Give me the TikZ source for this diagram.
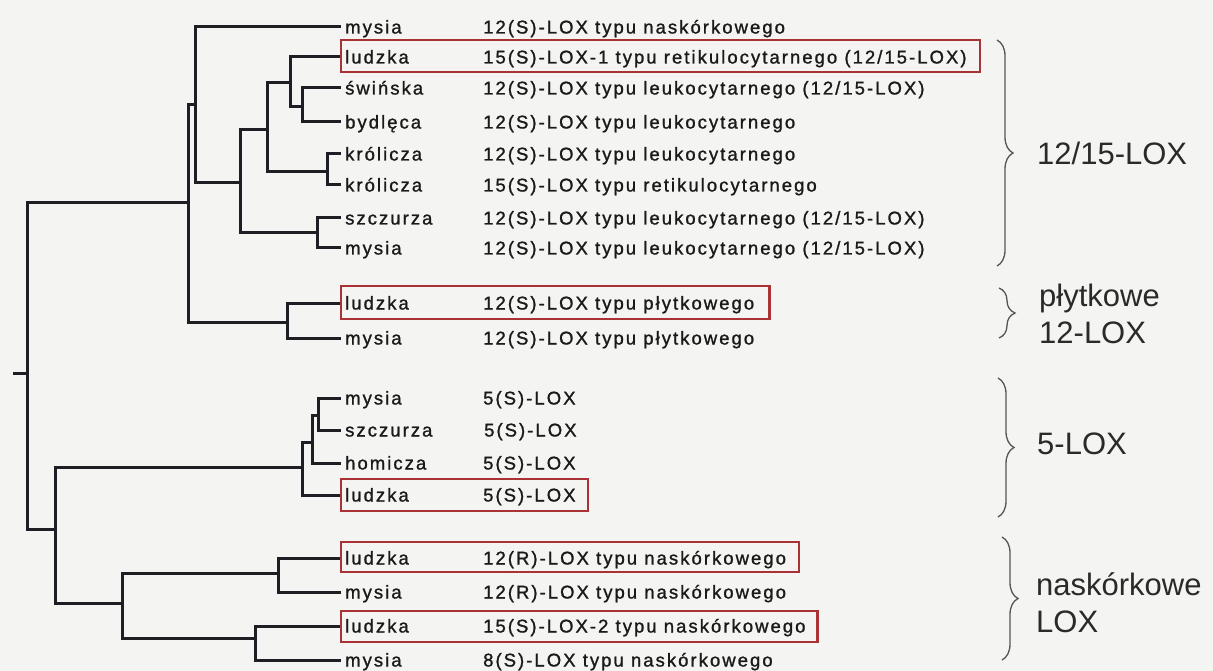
\documentclass[tikz,border=0pt]{standalone}
\usepackage{fontspec}
\setmainfont{Liberation Sans}
\newfontfamily\labfont[LetterSpace=11,FakeBold=1.2]{Liberation Sans}
\usetikzlibrary{decorations.pathreplacing,calc}
\definecolor{bg}{HTML}{F4F4F2}
\definecolor{tree}{HTML}{1E1E24}
\definecolor{boxred}{HTML}{A83236}
\definecolor{brc}{HTML}{555555}
\definecolor{txt}{HTML}{1A1A1A}
\definecolor{grp}{HTML}{2A2A2A}
\begin{document}
\begin{tikzpicture}[x=1pt,y=-1pt,
  branch/.style={draw=tree, line width=3pt},
  lab/.style={anchor=west, inner ysep=0pt, font=\labfont\fontsize{18.5}{20}\selectfont, text=txt, text height=15pt, text depth=2pt},
  leafname/.style={lab, inner xsep=4pt},
  desc/.style={lab, inner xsep=0pt},
  redbox/.style={draw=boxred, line width=2.5pt},
  grpbrace/.style={draw=brc, line width=1.3pt, decorate, decoration={brace, amplitude=16pt}},
  grplabel/.style={anchor=west, inner sep=0pt, align=left, font=\fontsize{31}{37}\selectfont, text=grp}]
\useasboundingbox (0,0) rectangle (1213,671);
\fill[bg] (0,0) rectangle (1213,671);

% leaf names
\node[leafname] (l1)  at (341,27)  {mysia};
\node[leafname] (l2)  at (341,57)  {ludzka};
\node[leafname] (l3)  at (341,88)  {świńska};
\node[leafname] (l4)  at (341,122) {bydlęca};
\node[leafname] (l5)  at (341,154) {królicza};
\node[leafname] (l6)  at (341,185) {królicza};
\node[leafname] (l7)  at (341,218) {szczurza};
\node[leafname] (l8)  at (341,248) {mysia};
\node[leafname] (l9)  at (341,303) {ludzka};
\node[leafname] (l10) at (341,338) {mysia};
\node[leafname] (l11) at (341,398) {mysia};
\node[leafname] (l12) at (341,430) {szczurza};
\node[leafname] (l13) at (341,463) {homicza};
\node[leafname] (l14) at (341,495) {ludzka};
\node[leafname] (l15) at (341,558) {ludzka};
\node[leafname] (l16) at (341,592) {mysia};
\node[leafname] (l17) at (341,626) {ludzka};
\node[leafname] (l18) at (341,660) {mysia};

% descriptions
\node[desc] (d1)  at (483,27)  {12(S)-LOX typu naskórkowego};
\node[desc] (d2)  at (483,57)  {15(S)-LOX-1 typu retikulocytarnego (12/15-LOX)};
\node[desc] (d3)  at (483,88)  {12(S)-LOX typu leukocytarnego (12/15-LOX)};
\node[desc] (d4)  at (483,122) {12(S)-LOX typu leukocytarnego};
\node[desc] (d5)  at (483,154) {12(S)-LOX typu leukocytarnego};
\node[desc] (d6)  at (483,185) {15(S)-LOX typu retikulocytarnego};
\node[desc] (d7)  at (483,218) {12(S)-LOX typu leukocytarnego (12/15-LOX)};
\node[desc] (d8)  at (483,248) {12(S)-LOX typu leukocytarnego (12/15-LOX)};
\node[desc] (d9)  at (483,303) {12(S)-LOX typu płytkowego};
\node[desc] (d10) at (483,338) {12(S)-LOX typu płytkowego};
\node[desc] (d11) at (483,398) {5(S)-LOX};
\node[desc] (d12) at (484,430) {5(S)-LOX};
\node[desc] (d13) at (483,463) {5(S)-LOX};
\node[desc] (d14) at (483,495) {5(S)-LOX};
\node[desc] (d15) at (483,558) {12(R)-LOX typu naskórkowego};
\node[desc] (d16) at (483,592) {12(R)-LOX typu naskórkowego};
\node[desc] (d17) at (483,626) {15(S)-LOX-2 typu naskórkowego};
\node[desc] (d18) at (483,660) {8(S)-LOX typu naskórkowego};

% internal nodes
\coordinate (r0) at (13,373);
\coordinate (R)  at (27,373);
\coordinate (T)  at (188,203);
\coordinate (A)  at (195,105);
\coordinate (B)  at (240,183);
\coordinate (C)  at (267,130);
\coordinate (D)  at (290,83);
\coordinate (E)  at (302,107);
\coordinate (F)  at (327,172);
\coordinate (G)  at (317,233);
\coordinate (P)  at (287,322);
\coordinate (Bt) at (55,529);
\coordinate (I)  at (302,467);
\coordinate (J)  at (312,442);
\coordinate (K)  at (318,415);
\coordinate (L)  at (122,603);
\coordinate (M)  at (278,573);
\coordinate (N)  at (255,638);

% branches
\draw[branch] (r0) -- (R);
\draw[branch] (R) |- (T);
\draw[branch] (R) |- (Bt);
\draw[branch] (T) |- (A);
\draw[branch] (T) |- (P);
\draw[branch] (A) |- (l1.west);
\draw[branch] (A) |- (B);
\draw[branch] (B) |- (C);
\draw[branch] (B) |- (G);
\draw[branch] (C) |- (D);
\draw[branch] (C) |- (F);
\draw[branch] (D) |- (l2.west);
\draw[branch] (D) |- (E);
\draw[branch] (E) |- (l3.west);
\draw[branch] (E) |- (l4.west);
\draw[branch] (F) |- (l5.west);
\draw[branch] (F) |- (l6.west);
\draw[branch] (G) |- (l7.west);
\draw[branch] (G) |- (l8.west);
\draw[branch] (P) |- (l9.west);
\draw[branch] (P) |- (l10.west);
\draw[branch] (Bt) |- (I);
\draw[branch] (Bt) |- (L);
\draw[branch] (I) |- (J);
\draw[branch] (I) |- (l14.west);
\draw[branch] (J) |- (K);
\draw[branch] (J) |- (l13.west);
\draw[branch] (K) |- (l11.west);
\draw[branch] (K) |- (l12.west);
\draw[branch] (L) |- (M);
\draw[branch] (L) |- (N);
\draw[branch] (M) |- (l15.west);
\draw[branch] (M) |- (l16.west);
\draw[branch] (N) |- (l17.west);
\draw[branch] (N) |- (l18.west);

% red boxes
\draw[redbox] ([yshift=17pt]l2.west) rectangle ([xshift=13pt,yshift=-15pt]d2.east);
\draw[redbox] ([yshift=17pt]l9.west) rectangle ([xshift=15pt,yshift=-16pt]d9.east);
\draw[redbox] ([yshift=16pt]l14.west) rectangle ([xshift=12pt,yshift=-16pt]d14.east);
\draw[redbox] ([yshift=16pt]l15.west) rectangle ([xshift=13pt,yshift=-14pt]d15.east);
\draw[redbox] ([yshift=15pt]l17.west) rectangle ([xshift=12pt,yshift=-16pt]d17.east);

% group braces
\coordinate (b1t) at (997,40);  \coordinate (b1b) at (997,266);
\coordinate (b2t) at (999,288); \coordinate (b2b) at (999,338);
\coordinate (b3t) at (998,378); \coordinate (b3b) at (998,517);
\coordinate (b4t) at (1002,537); \coordinate (b4b) at (1002,660);
\draw[grpbrace] (b1t) -- (b1b);
\draw[grpbrace] (b2t) -- (b2b);
\draw[grpbrace] (b3t) -- (b3b);
\draw[grpbrace] (b4t) -- (b4b);

\node[grplabel] (g1) at (1037,153) {12/15-LOX};
\node[grplabel] (g2) at (1039,314) {płytkowe\\12-LOX};
\node[grplabel] (g3) at (1037,444) {5-LOX};
\node[grplabel] (g4) at (1036,603) {naskórkowe\\LOX};
\end{tikzpicture}
\end{document}
